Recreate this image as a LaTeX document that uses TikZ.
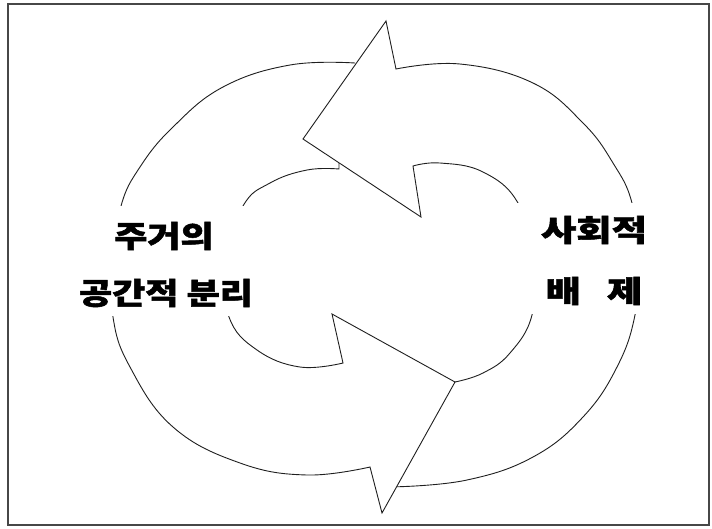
\documentclass[tikz,border=0pt]{standalone}
\usepackage{fontspec}
\newfontfamily\kr{Noto Sans CJK KR}[BoldFeatures={FakeBold=1.6}]
\begin{document}
\begin{tikzpicture}[x=1pt,y=-1pt,
  outline/.style={draw=black!88, line width=0.9pt, line join=miter},
  band/.style={fill=white, draw=none},
  lbl/.style={font=\kr\bfseries\fontsize{30}{30}\selectfont, inner sep=0pt, anchor=center},
  frame/.style={draw=black!72, line width=2pt}]
\useasboundingbox (0,0) rectangle (712,528);
\def\lowerarrow{plot[smooth, tension=0.7] coordinates {(355,63) (290,65) (223,87) (173,127) (140,167) (121,206) (113,262) (113,317) (130,367) (173,427) (240,463) (307,475) (370,467)}
  -- (382,513) -- (455,382) -- (332,314) -- (343,363)
  -- plot[smooth, tension=0.7] coordinates {(343,363) (300,367) (257,350) (229,317) (224,262) (243,206) (270,183) (307,170) (339,169)}
  -- (339,163)}
\def\upperarrow{plot[smooth, tension=0.7] coordinates {(396.6,486.8) (467,480) (533,457) (583,417) (617,367) (635,315) (639,260) (632,203) (613,163) (583,123) (533,83) (460,64) (396,69)}
  -- (386,21) -- (303,139) -- (421,217) -- (413,166)
  -- plot[smooth, tension=0.7] coordinates {(413,166) (440,163) (483,172) (518,203) (534,260) (532,315) (510,353) (483,373) (455,382)}}
% fills
\fill[white] \lowerarrow -- cycle;
\fill[white] \upperarrow -- cycle;
% outlines (open at the tails, which lie under the other head)
\draw[outline] \lowerarrow;
\draw[outline] \upperarrow;
% text bands
\fill[band] (10,206) rectangle (322,316);
\fill[band] (468,203) rectangle (706,314);
% labels
\node[lbl] (a1) at (164,236) {\scalebox{1.2}[1]{주거의}};
\node[lbl] (a2) at (166,293) {\scalebox{1.2}[1]{공간적 분리}};
\node[lbl] (b1) at (594,230) {\scalebox{1.28}[1]{사회적}};
\node[lbl] (b2) at (594,291) {\scalebox{1.28}[1]{배\hspace{0.45em} 제}};
% frame
\draw[frame] (8,4) rectangle (709,525);
\end{tikzpicture}
\end{document}
